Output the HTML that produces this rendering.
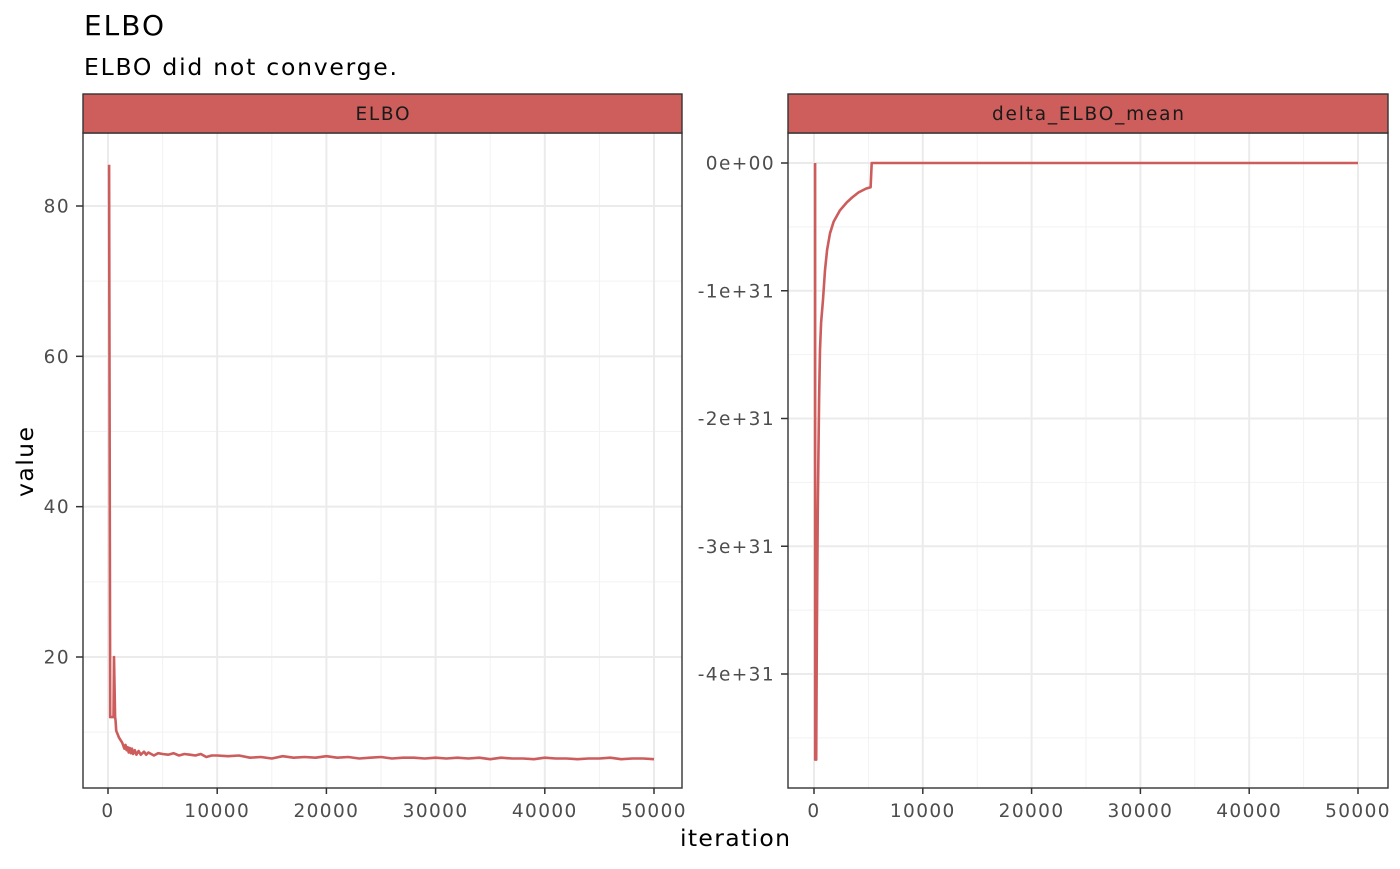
<!DOCTYPE html>
<html><head><meta charset="utf-8">
<style>
body{margin:0;background:#fff;font-family:"DejaVu Sans","Liberation Sans",sans-serif;}
svg text{font-family:"DejaVu Sans","Liberation Sans",sans-serif;}
</style></head>
<body>
<svg id="chart" width="1400" height="865" viewBox="0 0 1400 865" xmlns="http://www.w3.org/2000/svg">
<rect width="1400" height="865" fill="#fff"/>
<text x="84" y="35" font-size="28" fill="#000" textLength="80" lengthAdjust="spacing">ELBO</text>
<text x="84" y="75" font-size="23.5" fill="#000" textLength="313" lengthAdjust="spacing">ELBO did not converge.</text>
<text x="680" y="846" font-size="23.5" fill="#000" textLength="110" lengthAdjust="spacing">iteration</text>
<text x="0" y="0" font-size="23.5" fill="#000" textLength="70" lengthAdjust="spacing" transform="translate(33,497) rotate(-90)">value</text>
<g id="left"></g>
<g id="right"></g>
</svg>
<script>
const elboIter = [100,200,400,500,550,650,700,750,1000,1300,1500,1600,1700,1800,1900,2000,2100,2200,2300,2450,2600,2800,3000,3300,3500,3700,4200,4600,5000,5500,6000,6500,7000,7500,8000,8500,9000,9500,10000,11000,12000,13000,14000,15000,16000,17000,18000,19000,20000,21000,22000,23000,24000,25000,26000,27000,28000,29000,30000,31000,32000,33000,34000,35000,36000,37000,38000,39000,40000,41000,42000,43000,44000,45000,46000,47000,48000,49000,50000];
const elboValue = [85.5,12,12,12,20,12,11.5,10.2,9.3,8.6,7.8,8.3,7.6,8.0,7.3,7.9,7.2,7.8,7.1,7.6,7.0,7.5,7.0,7.4,7.0,7.3,6.9,7.2,7.1,7.0,7.2,6.9,7.1,7.0,6.9,7.1,6.7,6.9,6.9,6.8,6.9,6.6,6.7,6.5,6.8,6.6,6.7,6.6,6.8,6.6,6.7,6.5,6.6,6.7,6.5,6.6,6.6,6.5,6.6,6.5,6.6,6.5,6.6,6.4,6.6,6.5,6.5,6.4,6.6,6.5,6.5,6.4,6.5,6.5,6.6,6.4,6.5,6.5,6.4];
const deltaIter = [100,110,200,250,300,350,400,470,550,650,830,1010,1200,1470,1800,2390,3000,3500,4100,4780,5200,5300,50000];
const deltaValue = [0,-4.67,-4.67,-3.9,-3.2,-2.7,-2.3,-1.85,-1.46,-1.25,-1.07,-0.84,-0.68,-0.55,-0.46,-0.37,-0.31,-0.27,-0.23,-0.2,-0.19,0,0];
const xTicks = [0,10000,20000,30000,40000,50000];
const xTickLabels = ["0","10000","20000","30000","40000","50000"];
const leftYTicks = [20,40,60,80];
const leftYLabels = ["20","40","60","80"];
const rightYTicks = [0,-1,-2,-3,-4];
const rightYLabels = ["0e+00","-1e+31","-2e+31","-3e+31","-4e+31"];

const NS="http://www.w3.org/2000/svg";
function mk(parent,tag,attrs){const e=document.createElementNS(NS,tag);for(const k in attrs)e.setAttribute(k,attrs[k]);parent.appendChild(e);return e;}

function panel(g,opt){
  const {x0,x1,y0,y1,title,titleLen,sx,sy,yTicks,yLabels,minorY,iters,vals}=opt;
  mk(g,'rect',{x:x0,y:y0,width:x1-x0,height:y1-y0,fill:'#fff'});
  const minorX=[5000,15000,25000,35000,45000];
  minorX.forEach(v=>{const l=mk(g,'line',{x1:sx(v),x2:sx(v),y1:y0,y2:y1,stroke:'#f2f2f2','stroke-width':1});});
  minorY.forEach(v=>{const l=mk(g,'line',{x1:x0,x2:x1,y1:sy(v),y2:sy(v),stroke:'#f2f2f2','stroke-width':1});});
  xTicks.forEach((v,i)=>{
    const l=mk(g,'line',{x1:sx(v),x2:sx(v),y1:y0,y2:y1,stroke:'#ebebeb','stroke-width':2});
    
    mk(g,'line',{x1:sx(v),x2:sx(v),y1:y1,y2:y1+6,stroke:'#333','stroke-width':1.5});
    const t=mk(g,'text',{x:sx(v),y:y1+29,'font-size':18.5,'text-anchor':'middle',fill:'#4d4d4d','letter-spacing':1.4});t.textContent=xTickLabels[i];
    
  });
  yTicks.forEach((v,i)=>{
    const l=mk(g,'line',{x1:x0,x2:x1,y1:sy(v),y2:sy(v),stroke:'#ebebeb','stroke-width':2});
    
    mk(g,'line',{x1:x0-7,x2:x0,y1:sy(v),y2:sy(v),stroke:'#333','stroke-width':1.5});
    const t=mk(g,'text',{x:x0-13,y:sy(v)+6.5,'font-size':18.5,'text-anchor':'end',fill:'#4d4d4d','letter-spacing':1.4});t.textContent=yLabels[i];
    
  });
  let d='';iters.forEach((it,i)=>{d+=(i?'L':'M')+sx(it).toFixed(1)+','+sy(vals[i]).toFixed(1);});
  const p=mk(g,'path',{d:d,fill:'none',stroke:'#cd5c5c','stroke-width':2.6,'stroke-linejoin':'round'});
  
  mk(g,'rect',{x:x0,y:y0,width:x1-x0,height:y1-y0,fill:'none',stroke:'#333','stroke-width':1.4});
  const s=mk(g,'rect',{x:x0,y:94,width:x1-x0,height:y0-94,fill:'#cd5e5c',stroke:'#333','stroke-width':1.4});
  
  const st=mk(g,'text',{x:(x0+x1)/2-titleLen/2,y:120,'font-size':18.5,fill:'#1a1a1a',textLength:titleLen,lengthAdjust:'spacing'});st.textContent=title;
  
}
panel(document.getElementById('left'),{x0:83,x1:682,y0:133,y1:788,title:'ELBO',titleLen:54,
  sx:v=>108+v*(654-108)/50000, sy:v=>657-(v-20)*(657-206)/60,
  yTicks:leftYTicks,yLabels:leftYLabels,minorY:[10,30,50,70],iters:elboIter,vals:elboValue});
panel(document.getElementById('right'),{x0:788,x1:1388,y0:133,y1:788,title:'delta_ELBO_mean',titleLen:192,
  sx:v=>814+v*(1358-814)/50000, sy:v=>163-v*127.75,
  yTicks:rightYTicks,yLabels:rightYLabels,minorY:[-0.5,-1.5,-2.5,-3.5,-4.5],iters:deltaIter,vals:deltaValue});
</script>
</body></html>
